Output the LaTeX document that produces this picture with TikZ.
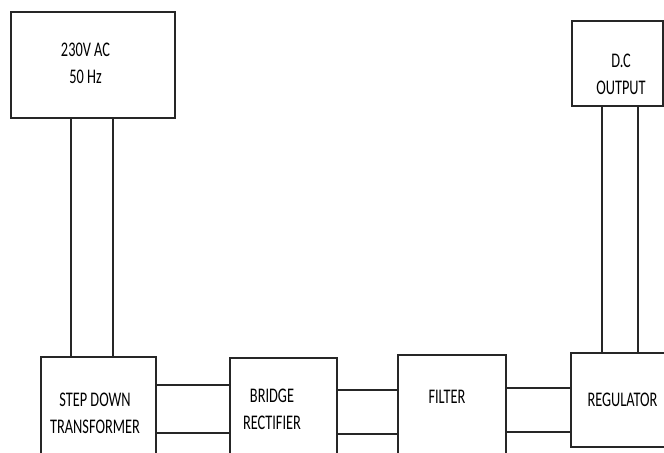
\documentclass[tikz,border=0pt]{standalone}
\usepackage{fontspec}
\setmainfont{Carlito}
\usepackage{graphicx}
\usepackage{tikz}
\usetikzlibrary{positioning,calc}

% tall, narrow lettering as in the scanned drawing
\newcommand{\tall}[1]{\scalebox{1}[1.45]{#1}}

\begin{document}
\begin{tikzpicture}[x=0.025cm,y=-0.025cm,font=\fontsize{10.2}{19}\selectfont,
  blk/.style={draw=black!85,line width=1pt,inner sep=0pt},
  lbl/.style={align=center,text=black,inner sep=0pt},
  wire/.style={draw=black!85,line width=1pt}]
\useasboundingbox (0,0) rectangle (664,453);
\clip (0,0) rectangle (664,453);
% blocks
\node[blk,minimum width=4.1cm,minimum height=2.65cm] (ac) at (93,65) {};
\node[blk,minimum width=2.275cm,minimum height=2.125cm] (dcout) at (617.5,63.5) {};
\node[blk,minimum width=2.875cm,minimum height=2.825cm] (xfmr) at (98.5,413.5) {};
\node[blk,minimum width=2.675cm,minimum height=2.8cm] (rect) at (283.5,414) {};
\node[blk,minimum width=2.7cm,minimum height=2.875cm] (filt) at (452,412.5) {};
\node[blk,minimum width=2.6cm,minimum height=2.35cm] (reg) at (623,400) {};
% labels
\node[lbl] (acl) at (85.5,63) {\tall{230V AC}\\\tall{50 Hz}};
\node[lbl] (dcl) at (621,74.5) {\tall{D.C}\\\tall{OUTPUT}};
\node[lbl] (xfl) at (95,413.5) {\tall{STEP DOWN}\\\tall{TRANSFORMER}};
\node[lbl] (rcl) at (272,409.5) {\tall{BRIDGE}\\\tall{RECTIFIER}};
\node[lbl] (fil) at (447,397) {\tall{FILTER}};
\node[lbl] (rgl) at (622.5,400) {\tall{REGULATOR}};
% wires
\foreach \x in {71,113}{\path[wire] (ac.south -| \x,0) -- (xfmr.north -| \x,0);}
\foreach \x in {602,638}{\path[wire] (dcout.south -| \x,0) -- (reg.north -| \x,0);}
\foreach \y in {385,433}{\path[wire] (xfmr.east |- 0,\y) -- (rect.west |- 0,\y);}
\foreach \y in {390,434}{\path[wire] (rect.east |- 0,\y) -- (filt.west |- 0,\y);}
\foreach \y in {388,432}{\path[wire] (filt.east |- 0,\y) -- (reg.west |- 0,\y);}
\end{tikzpicture}
\end{document}
